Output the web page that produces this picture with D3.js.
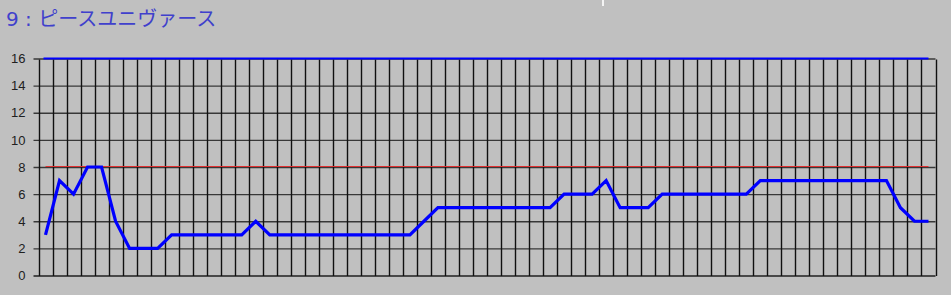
<!DOCTYPE html>
<html>
<head>
<meta charset="utf-8">
<script src="https://cdn.jsdelivr.net/npm/d3@7"></script>
<style>
  html, body { margin: 0; padding: 0; background: #c0c0c0; }
  svg { display: block; }
</style>
</head>
<body>
<div id="chart"></div>
<script>
// chart data
const title = "9 : ピースユニヴァース";
const values = [3, 7, 6, 8, 8, 4, 2, 2, 2, 3, 3, 3, 3, 3, 3, 4, 3, 3, 3, 3,
                3, 3, 3, 3, 3, 3, 3, 4, 5, 5, 5, 5, 5, 5, 5, 5, 5, 6, 6, 6,
                7, 5, 5, 5, 6, 6, 6, 6, 6, 6, 6, 7, 7, 7, 7, 7, 7, 7, 7, 7,
                7, 5, 4, 4];
const categories = d3.range(values.length);
const yTicks = [0, 2, 4, 6, 8, 10, 12, 14, 16];
const refLine = 8;     // red line
const topLine = 16;    // blue line on top

const width = 951;
const height = 295;
const margin = {left: 38.5, right: 15.5, top: 58.5, bottom: 19.5};

const svg = d3.select("#chart")
  .append("svg")
  .attr("width", width)
  .attr("height", height);

// scales
const xScale = d3.scaleBand()
  .domain(categories)
  .range([margin.left, width - margin.right]);

const yScale = d3.scaleLinear()
  .domain([0, 16])
  .range([height - margin.bottom, margin.top]);

const xMid = i => xScale(i) + xScale.bandwidth() / 2;

// title
svg.append("text")
  .attr("x", 6)
  .attr("y", 26)
  .attr("xml:space", "preserve")
  .style("white-space", "pre")
  .attr("font-family", "'DejaVu Sans', 'Noto Sans CJK JP', sans-serif")
  .attr("font-size", "20px")
  .attr("fill", "#4040cc")
  .text(title);

// little white mark at the top
svg.append("rect")
  .attr("x", 602)
  .attr("y", 0)
  .attr("width", 2)
  .attr("height", 6)
  .attr("fill", "#f4f4f4");

// horizontal grid + y labels
const yAxis = svg.append("g")
  .attr("transform", `translate(${margin.left - 5}, 0)`)
  .call(d3.axisLeft(yScale)
          .tickValues(yTicks)
          .tickSizeInner(-(width - margin.right - margin.left + 5))
          .tickSizeOuter(0)
          .tickPadding(8));
yAxis.select(".domain").remove();
yAxis.selectAll("line")
  .attr("stroke", d => d === 0 ? "#202020" : "#383838")
  .attr("stroke-width", 1.3);
yAxis.selectAll("text")
  .attr("font-family", "'Liberation Sans', Arial, sans-serif")
  .attr("font-size", "13px")
  .attr("fill", "#202020");

// vertical grid at category boundaries
const bounds = categories.map(i => xScale(i)).concat([xScale.range()[1]]);
svg.selectAll(".vgrid")
  .data(bounds)
  .enter()
  .append("line")
    .attr("class", "vgrid")
    .attr("x1", d => Math.round(d) + 0.5)
    .attr("x2", d => Math.round(d) + 0.5)
    .attr("y1", yScale(16) + 1)
    .attr("y2", yScale(0) + 0.5)
    .attr("stroke", "#101010")
    .attr("stroke-width", 1.4);

// reference lines
svg.append("line")
  .attr("x1", xMid(categories[0]))
  .attr("x2", xMid(categories[categories.length - 1]))
  .attr("y1", Math.round(yScale(refLine)) - 0.5)
  .attr("y2", Math.round(yScale(refLine)) - 0.5)
  .attr("stroke", "#e03030")
  .attr("stroke-width", 1);

svg.append("line")
  .attr("x1", xMid(categories[0]) - 2)
  .attr("x2", xMid(categories[categories.length - 1]))
  .attr("y1", yScale(topLine))
  .attr("y2", yScale(topLine))
  .attr("stroke", "#0000ff")
  .attr("stroke-width", 2.2);

// data line
const line = d3.line()
  .x((d, i) => xMid(i))
  .y(d => yScale(d));

svg.append("path")
  .datum(values)
  .attr("d", line)
  .attr("fill", "none")
  .attr("stroke", "#0000ff")
  .attr("stroke-width", 3.2)
  .attr("stroke-linejoin", "miter");
</script>
</body>
</html>
